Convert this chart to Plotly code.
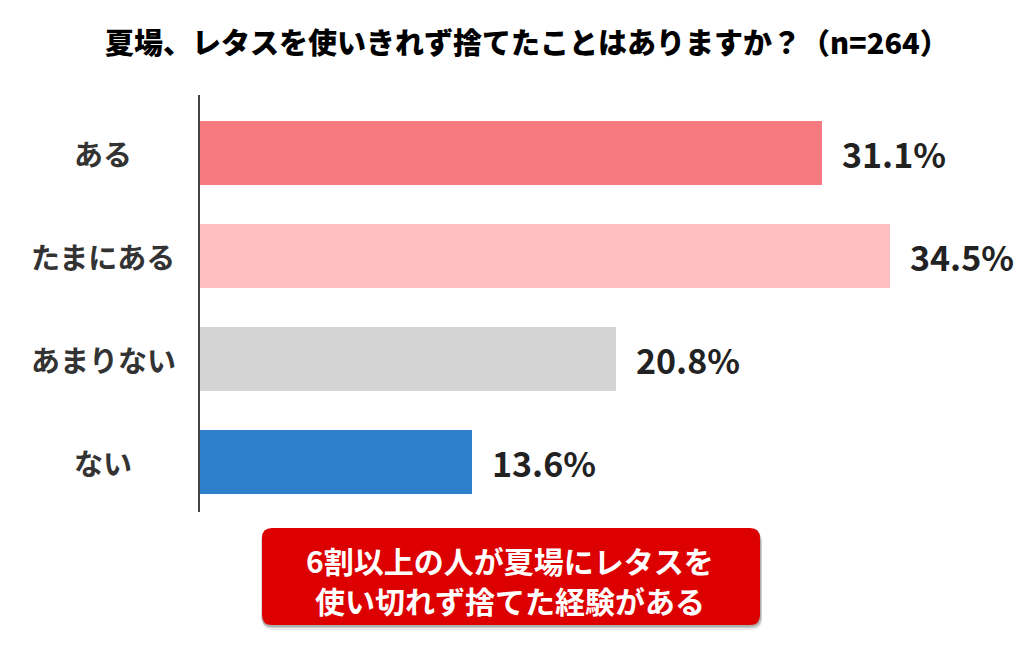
import plotly.graph_objects as go

categories = ["ある", "たまにある", "あまりない", "ない"]
values = [31.1, 34.5, 20.8, 13.6]
value_labels = ["31.1%", "34.5%", "20.8%", "13.6%"]
colors = ["#F47A80", "#FFBFC2", "#D4D4D4", "#2F80CC"]
title_text = "夏場、レタスを使いきれず捨てたことはありますか？（n=264）"
callout_lines = ["6割以上の人が夏場にレタスを", "使い切れず捨てた経験がある"]

W, H = 1024, 659
L, R, T, B = 200, 24, 95, 147
PW, PH = W - L - R, H - T - B
FONT = "Noto Sans CJK JP"


def px_x(p):
    return (p - L) / PW


def px_y(p):
    return (H - B - p) / PH


def rrect(x0, y0, x1, y1, r):
    # pixel coords -> paper path with rounded corners
    X = lambda v: px_x(v)
    Y = lambda v: px_y(v)
    return (
        f"M {X(x0 + r)} {Y(y0)} L {X(x1 - r)} {Y(y0)} "
        f"Q {X(x1)} {Y(y0)} {X(x1)} {Y(y0 + r)} "
        f"L {X(x1)} {Y(y1 - r)} Q {X(x1)} {Y(y1)} {X(x1 - r)} {Y(y1)} "
        f"L {X(x0 + r)} {Y(y1)} Q {X(x0)} {Y(y1)} {X(x0)} {Y(y1 - r)} "
        f"L {X(x0)} {Y(y0 + r)} Q {X(x0)} {Y(y0)} {X(x0 + r)} {Y(y0)} Z"
    )


fig = go.Figure(
    go.Bar(
        x=values,
        y=categories,
        orientation="h",
        marker=dict(color=colors, line=dict(width=0)),
        hoverinfo="skip",
    )
)

annotations = []
for c, v, lab in zip(categories, values, value_labels):
    annotations.append(dict(
        x=v, y=c, xref="x", yref="y", text=lab, showarrow=False,
        xanchor="left", yanchor="middle", xshift=18,
        font=dict(family=FONT, size=34, color="#222222", weight=700),
    ))
    annotations.append(dict(
        x=px_x(103), y=c, xref="paper", yref="y", text=c, showarrow=False,
        xanchor="center", yanchor="middle",
        font=dict(family=FONT, size=29, color="#333333", weight=700),
    ))

annotations.append(dict(
    x=px_x(527), y=px_y(41), xref="paper", yref="paper", text=title_text,
    showarrow=False, xanchor="center", yanchor="middle",
    font=dict(family=FONT, size=29, color="#000000", weight=900),
))
for i, line in enumerate(callout_lines):
    annotations.append(dict(
        x=px_x(510), y=px_y(560 + 40 * i), xref="paper", yref="paper", text=line,
        showarrow=False, xanchor="center", yanchor="middle",
        font=dict(family=FONT, size=30, color="#FFFFFF", weight=700),
    ))

shapes = []
bx0, by0, bx1, by1 = 262, 528, 760, 625
for dx, dy, op in [(1, 5, 0.08), (1, 3, 0.12), (0, 2, 0.15)]:
    shapes.append(dict(type="path", xref="paper", yref="paper",
                       path=rrect(bx0 + dx - 1, by0 + dy, bx1 + dx + 1, by1 + dy, 11),
                       fillcolor=f"rgba(0,0,0,{op})", line=dict(width=0), layer="above"))
shapes.append(dict(type="path", xref="paper", yref="paper",
                   path=rrect(bx0, by0, bx1, by1, 10),
                   fillcolor="#DD0000", line=dict(width=0), layer="above"))

fig.update_layout(
    width=W, height=H,
    margin=dict(l=L, r=R, t=T, b=B, pad=0),
    paper_bgcolor="white", plot_bgcolor="white",
    bargap=0.38,
    showlegend=False,
    xaxis=dict(range=[0, 40], visible=False, fixedrange=True),
    yaxis=dict(
        type="category", categoryorder="array", categoryarray=categories,
        range=[3.485, -0.563], showticklabels=False, ticks="",
        showgrid=False, zeroline=False,
        showline=True, linecolor="#444444", linewidth=2, fixedrange=True,
    ),
    shapes=shapes,
    annotations=annotations,
)

fig.write_html("out.html", config={"displayModeBar": False})
